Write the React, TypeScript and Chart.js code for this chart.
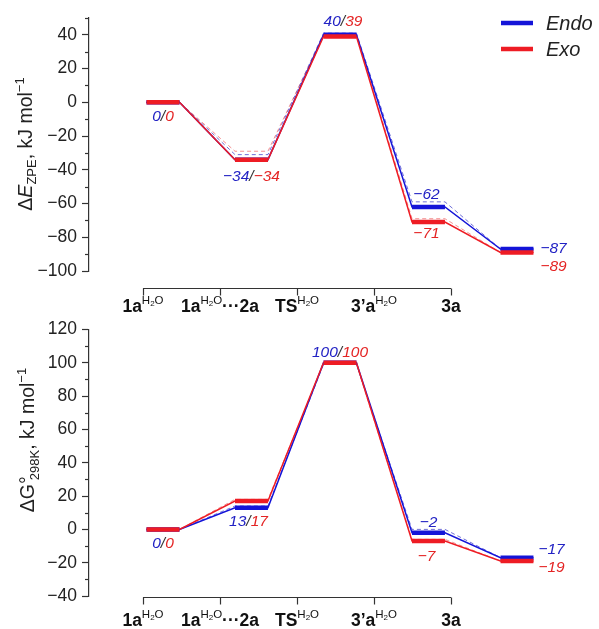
import React, { useEffect, useRef } from 'react';
import { Chart, registerables } from 'chart.js';

Chart.register(...registerables);

// ---------- data ----------
const stateMain = ['1a', '1a', 'TS', '3\u2019a', '3a'];
const stateSuffix = ['', '\u00b7\u00b7\u00b72a', '', '', ''];
const stateWater = [true, true, true, true, false];

const endoE = [0, -34, 40, -62, -87];
const exoE = [0, -34, 39, -71, -89];
const endoEAlt = [0, -31, 41, -59, -87];
const exoEAlt = [0, -29, 40, -69, -89];

const endoG = [0, 13, 100, -2, -17];
const exoG = [0, 17, 100, -7, -19];
const endoGAlt = [0, 14, 99, 0, -17];
const exoGAlt = [0, 18, 99, -6, -19];

const topMajorTicks = [-100, -80, -60, -40, -20, 0, 20, 40];
const topMinorTicks = [-90, -70, -50, -30, -10, 10, 30, 50];
const botMajorTicks = [-40, -20, 0, 20, 40, 60, 80, 100, 120];
const botMinorTicks = [-30, -10, 10, 30, 50, 70, 90, 110];

const legendNames = ['Endo', 'Exo'];

// ---------- style ----------
const FAM = '"Liberation Sans", Arial, Helvetica, sans-serif';
const fnt = (size: number, style = '') => `${style} ${size}px ${FAM}`.trim();
const BLUE = '#1414d8';
const RED = '#ee1c24';
const LBLUE = '#2222c4';
const LRED = '#e42424';
const AXIS = '#333333';
const TXT = '#222222';
const BAR_HALF = 0.186;
const XMIN = -0.836;
const XMAX = 4.825;
const XC_MIN = -0.701;
const XC_MAX = 5.805;

type Part = { t: string; font: string; color?: string; dy?: number; dx?: number };

function partsWidth(ctx: CanvasRenderingContext2D, parts: Part[]) {
  let w = 0;
  for (const p of parts) {
    ctx.font = p.font;
    w += (p.dx || 0) + ctx.measureText(p.t).width;
  }
  return w;
}

function drawRich(ctx: CanvasRenderingContext2D, parts: Part[], x: number, baseline: number, align: 'left' | 'center') {
  const w = partsWidth(ctx, parts);
  let cx = align === 'center' ? x - w / 2 : x;
  ctx.textAlign = 'left';
  ctx.textBaseline = 'alphabetic';
  for (const p of parts) {
    ctx.font = p.font;
    ctx.fillStyle = p.color || TXT;
    cx += p.dx || 0;
    ctx.fillText(p.t, cx, baseline + (p.dy || 0));
    cx += ctx.measureText(p.t).width;
  }
}

const fmt = (v: number) => (v < 0 ? '\u2212' + Math.abs(v) : String(v));

type LabelSpec = { i: number; s: 'pair' | 'endo' | 'exo'; dx?: number; dy: number; right?: boolean };

type PanelCfg = {
  top: number;
  h: number;
  endo: number[];
  exo: number[];
  endoAlt: number[];
  exoAlt: number[];
  yMin: number;
  yMax: number;
  major: number[];
  minor: number[];
  pad: { top: number; bottom: number };
  title: Part[];
  titleX: number;
  titleY: number;
  bracketGap: number;
  labelGap: number;
  labels: LabelSpec[];
  legend: boolean;
};

const R19 = fnt(19.5);
const I19 = fnt(19.5, 'italic');
const R13 = fnt(13);

const topCfg: PanelCfg = {
  top: 0,
  h: 314,
  endo: endoE,
  exo: exoE,
  endoAlt: endoEAlt,
  exoAlt: exoEAlt,
  yMin: -100,
  yMax: 50,
  major: topMajorTicks,
  minor: topMinorTicks,
  pad: { top: 18, bottom: 43 },
  title: [
    { t: '\u0394', font: R19 },
    { t: 'E', font: I19 },
    { t: 'ZPE', font: R13, dy: 4 },
    { t: ', kJ mol', font: R19 },
    { t: '\u22121', font: R13, dy: -8 },
  ],
  titleX: 32,
  titleY: 144,
  bracketGap: 17,
  labelGap: 17,
  labels: [
    { i: 0, s: 'pair', dy: 13 },
    { i: 1, s: 'pair', dy: 16 },
    { i: 2, s: 'pair', dy: -14, dx: 3 },
    { i: 3, s: 'endo', dy: -13, dx: -2 },
    { i: 3, s: 'exo', dy: 10, dx: -2 },
    { i: 4, s: 'endo', dy: -2, dx: 7, right: true },
    { i: 4, s: 'exo', dy: 13, dx: 7, right: true },
  ],
  legend: true,
};

const botCfg: PanelCfg = {
  top: 314,
  h: 315,
  endo: endoG,
  exo: exoG,
  endoAlt: endoGAlt,
  exoAlt: exoGAlt,
  yMin: -40,
  yMax: 120,
  major: botMajorTicks,
  minor: botMinorTicks,
  pad: { top: 12, bottom: 33 },
  title: [
    { t: '\u0394G\u00b0', font: R19 },
    { t: '298K', font: R13, dy: 5, dx: -4 },
    { t: ', kJ mol', font: R19 },
    { t: '\u22121', font: R13, dy: -8 },
  ],
  titleX: 34,
  titleY: 126,
  bracketGap: 1,
  labelGap: 22,
  labels: [
    { i: 0, s: 'pair', dy: 13 },
    { i: 1, s: 'pair', dy: 13, dx: -3 },
    { i: 2, s: 'pair', dy: -11 },
    { i: 3, s: 'endo', dy: -11 },
    { i: 3, s: 'exo', dy: 14, dx: -2 },
    { i: 4, s: 'endo', dy: -9, dx: 5, right: true },
    { i: 4, s: 'exo', dy: 5, dx: 5, right: true },
  ],
  legend: false,
};

function levelPoints(vals: number[]) {
  return vals.flatMap((v, i) => [
    { x: i - BAR_HALF, y: v },
    { x: i + BAR_HALF, y: v },
  ]);
}

function barPoints(vals: number[]) {
  return vals.flatMap((v, i) => [
    { x: i - BAR_HALF, y: v },
    { x: i + BAR_HALF, y: v },
    { x: i + 0.5, y: null as any },
  ]);
}

function makeOverlay(cfg: PanelCfg) {
  return {
    id: 'overlay',
    afterDraw(chart: any) {
      const ctx: CanvasRenderingContext2D = chart.ctx;
      const ys = chart.scales.y;
      const xs = chart.scales.x;
      const xc = chart.scales.xc;
      const area = chart.chartArea;
      ctx.save();

      // minor ticks
      ctx.strokeStyle = AXIS;
      ctx.lineWidth = 1.2;
      for (const v of cfg.minor) {
        const y = Math.round(ys.getPixelForValue(v)) + 0.5;
        ctx.beginPath();
        ctx.moveTo(ys.right - 4, y);
        ctx.lineTo(ys.right, y);
        ctx.stroke();
      }

      // category bracket axis
      const by = Math.round(area.bottom + cfg.bracketGap) + 0.5;
      const x0 = xc.getPixelForValue(0);
      const x4 = xc.getPixelForValue(stateMain.length - 1);
      ctx.beginPath();
      ctx.moveTo(x0, by);
      ctx.lineTo(x4, by);
      ctx.stroke();
      stateMain.forEach((_, i) => {
        const x = Math.round(xc.getPixelForValue(i)) + 0.5;
        ctx.beginPath();
        ctx.moveTo(x, by);
        ctx.lineTo(x, by + 7);
        ctx.stroke();
      });
      const B17 = fnt(17.5, 'bold');
      stateMain.forEach((m, i) => {
        const parts: Part[] = [{ t: m, font: B17, color: '#111' }];
        if (stateWater[i]) {
          parts.push({ t: 'H', font: fnt(11.5), color: '#111', dy: -8 });
          parts.push({ t: '2', font: fnt(8), color: '#111', dy: -6 });
          parts.push({ t: 'O', font: fnt(11.5), color: '#111', dy: -8 });
        }
        if (stateSuffix[i]) parts.push({ t: stateSuffix[i], font: B17, color: '#111' });
        const x = xc.getPixelForValue(i);
        drawRich(ctx, parts, x, by + cfg.labelGap + 6, 'center');
      });

      // value labels
      const VF = fnt(15.5, 'italic');
      for (const L of cfg.labels) {
        let parts: Part[];
        let anchorVal: number;
        if (L.s === 'pair') {
          parts = [
            { t: fmt(cfg.endo[L.i]), font: VF, color: LBLUE },
            { t: '/', font: VF, color: '#333' },
            { t: fmt(cfg.exo[L.i]), font: VF, color: LRED },
          ];
          anchorVal = cfg.endo[L.i];
        } else if (L.s === 'endo') {
          parts = [{ t: fmt(cfg.endo[L.i]), font: VF, color: LBLUE }];
          anchorVal = cfg.endo[L.i];
        } else {
          parts = [{ t: fmt(cfg.exo[L.i]), font: VF, color: LRED }];
          anchorVal = cfg.exo[L.i];
        }
        const yMid = ys.getPixelForValue(anchorVal) + L.dy;
        if (L.right) {
          const x = xs.getPixelForValue(L.i + BAR_HALF) + (L.dx || 0);
          drawRich(ctx, parts, x, yMid + 5.5, 'left');
        } else {
          const x = xs.getPixelForValue(L.i) + (L.dx || 0);
          drawRich(ctx, parts, x, yMid + 5.5, 'center');
        }
      }

      // y title (rotated)
      ctx.save();
      ctx.translate(cfg.titleX, cfg.titleY);
      ctx.rotate(-Math.PI / 2);
      drawRich(ctx, cfg.title, 0, 0, 'center');
      ctx.restore();

      // legend
      if (cfg.legend) {
        const cols = [BLUE, RED];
        legendNames.forEach((name, k) => {
          const y = 23 + k * 26;
          ctx.strokeStyle = cols[k];
          ctx.lineWidth = 4.5;
          ctx.beginPath();
          ctx.moveTo(501, y);
          ctx.lineTo(533, y);
          ctx.stroke();
          drawRich(ctx, [{ t: name, font: fnt(20, 'italic'), color: '#222' }], 546, y + 7, 'left');
        });
      }

      ctx.restore();
    },
  };
}

function Panel({ cfg }: { cfg: PanelCfg }) {
  const ref = useRef<HTMLCanvasElement>(null);
  useEffect(() => {
    if (!ref.current) return;
    const common = {
      pointRadius: 0,
      pointHoverRadius: 0,
      pointHitRadius: 0,
      fill: false,
      tension: 0,
      spanGaps: false,
      borderCapStyle: 'butt',
    };
    const chart = new Chart(ref.current, {
      type: 'line',
      data: {
        datasets: [
          { ...common, label: 'Exo', data: barPoints(cfg.exo), borderColor: RED, borderWidth: 4.5, order: 0 },
          { ...common, label: 'Endo', data: barPoints(cfg.endo), borderColor: BLUE, borderWidth: 4.5, order: 1 },
          { ...common, label: 'Exo link', data: levelPoints(cfg.exo), borderColor: RED, borderWidth: 1.5, order: 2 },
          { ...common, label: 'Endo link', data: levelPoints(cfg.endo), borderColor: BLUE, borderWidth: 1.5, order: 3 },
          {
            ...common,
            label: 'Exo alt',
            data: levelPoints(cfg.exoAlt),
            borderColor: 'rgba(235,70,70,0.6)',
            borderWidth: 1,
            borderDash: [4, 3],
            order: 4,
          },
          {
            ...common,
            label: 'Endo alt',
            data: levelPoints(cfg.endoAlt),
            borderColor: 'rgba(50,50,200,0.7)',
            borderWidth: 1,
            borderDash: [4, 3],
            order: 5,
          },
        ] as any,
      },
      options: {
        responsive: false,
        animation: false,
        events: [],
        layout: { padding: { top: cfg.pad.top, bottom: cfg.pad.bottom, left: 0, right: 9 } },
        plugins: { legend: { display: false }, tooltip: { enabled: false }, title: { display: false } },
        scales: {
          x: { type: 'linear', min: XMIN, max: XMAX, display: false },
          xc: { type: 'linear', axis: 'x', min: XC_MIN, max: XC_MAX, display: false },
          y: {
            type: 'linear',
            position: 'left',
            min: cfg.yMin,
            max: cfg.yMax,
            afterBuildTicks: (s: any) => {
              s.ticks = cfg.major.map((v) => ({ value: v }));
            },
            afterFit: (s: any) => {
              s.width = 89;
            },
            ticks: {
              autoSkip: false,
              padding: 5,
              color: TXT,
              font: { family: FAM, size: 17.5 },
              callback: (v: any) => fmt(Number(v)),
            },
            grid: { drawOnChartArea: false, drawTicks: true, tickLength: 7, tickColor: AXIS, tickWidth: 1.2 },
            border: { display: true, color: AXIS, width: 1.2 },
          },
        } as any,
      },
      plugins: [makeOverlay(cfg)],
    } as any);
    return () => chart.destroy();
  }, [cfg]);
  return (
    <canvas
      ref={ref}
      width={599}
      height={cfg.h}
      style={{ position: 'absolute', left: 0, top: cfg.top, width: 599, height: cfg.h }}
    />
  );
}

export default function App() {
  return (
    <div style={{ position: 'fixed', left: 0, top: 0, width: 599, height: 629, background: '#ffffff', overflow: 'hidden' }}>
      <Panel cfg={topCfg} />
      <Panel cfg={botCfg} />
    </div>
  );
}
